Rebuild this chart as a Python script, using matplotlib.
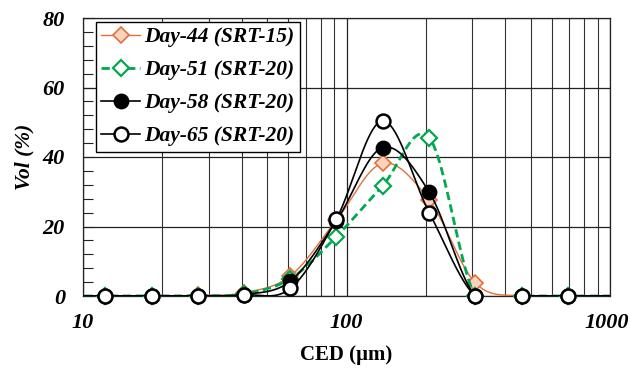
import numpy as np
import matplotlib
matplotlib.use("Agg")
import matplotlib.pyplot as plt
import matplotlib.transforms as mtransforms
from matplotlib.ticker import FixedLocator, NullFormatter

# Particle size bins (CED, µm) and volume fractions (%)
ced = [8.1, 12.1, 18.2, 27.2, 40.8, 61.3, 91.5, 137, 206, 308, 462, 693, 1039]
day44 = [0, 0, 0, 0.2, 0.9, 5.8, 21.8, 38.2, 27.6, 3.8, 0, 0, 0]
day51 = [0, 0, 0, 0.1, 0.6, 5.0, 17.1, 31.7, 45.6, 0, 0, 0, 0]
day58 = [0, 0, 0, 0.1, 0.4, 4.3, 21.6, 42.7, 29.9, 0, 0, 0, 0]
day65 = [0, 0, 0, 0.0, 0.3, 2.2, 22.1, 50.4, 24.0, 0, 0, 0, 0]

labels = ["Day-44 (SRT-15)", "Day-51 (SRT-20)", "Day-58 (SRT-20)", "Day-65 (SRT-20)"]
xticks = [10, 100, 1000]
xticklabels = ["10", "100", "1000"]
yticks = [0, 20, 40, 60, 80]

serif = ["Liberation Serif", "DejaVu Serif"]

fig = plt.figure(figsize=(6.30, 3.69), dpi=100)
ax = fig.add_axes([83 / 630, 1 - 296 / 369, 527 / 630, 278 / 369])
ax.set_xscale("log")
ax.set_xlim(10, 1000)
ax.set_ylim(0, 80)


def smooth(x, y, n=40):
    """Catmull-Rom style smoothing computed in display space."""
    pts = ax.transData.transform(np.column_stack([x, y]))
    P = np.vstack([pts[0], pts, pts[-1]])
    out = []
    for i in range(1, len(P) - 2):
        p0, p1, p2, p3 = P[i - 1], P[i], P[i + 1], P[i + 2]
        b1 = p1 + (p2 - p0) / 6.0
        b2 = p2 - (p3 - p1) / 6.0
        t = np.linspace(0, 1, n, endpoint=(i == len(P) - 3))[:, None]
        seg = ((1 - t) ** 3) * p1 + 3 * ((1 - t) ** 2) * t * b1 + 3 * (1 - t) * t ** 2 * b2 + t ** 3 * p2
        out.append(seg)
    out = np.vstack(out)
    d = ax.transData.inverted().transform(out)
    return d[:, 0], d[:, 1]


styles = [
    dict(color="#E2703A", lw=1.0, ls="-", marker="D", ms=8.5, mfc="#F9D3BE", mec="#E2703A", mew=1.2),
    dict(color="#00A850", lw=2.0, ls=(0, (3, 1.6)), marker="D", ms=8.5, mfc="white", mec="#00A850", mew=1.6),
    dict(color="black", lw=1.2, ls="-", marker="o", ms=10, mfc="black", mec="black", mew=1.4),
    dict(color="black", lw=1.2, ls="-", marker="o", ms=10, mfc="white", mec="black", mew=1.8),
]

xlo, xhi = ax.get_xlim()
handles = []
for i, (vals, lab, st) in enumerate(zip([day44, day51, day58, day65], labels, styles)):
    sx, sy = smooth(ced, vals)
    ax.plot(sx, sy, color=st["color"], lw=st["lw"], ls=st["ls"], zorder=3 + i)
    inside = [(c, v) for c, v in zip(ced, vals) if xlo <= c <= xhi]
    mx, my = zip(*inside)
    ax.plot(mx, my, ls="none", marker=st["marker"], ms=st["ms"], mfc=st["mfc"],
            mec=st["mec"], mew=st["mew"], zorder=3 + i, clip_on=False)
    h, = ax.plot([], [], color=st["color"], lw=st["lw"], ls=st["ls"], marker=st["marker"],
                 ms=st["ms"], mfc=st["mfc"], mec=st["mec"], mew=st["mew"])
    handles.append(h)

# grid
ax.set_xticks(xticks)
ax.set_xticklabels(xticklabels)
minor_x = [m * d for d in (10, 100) for m in range(2, 10)]
ax.xaxis.set_minor_locator(FixedLocator(minor_x))
ax.xaxis.set_minor_formatter(NullFormatter())
ax.set_yticks(yticks)
ax.yaxis.set_minor_locator(FixedLocator(np.arange(0, 81, 4)))
ax.grid(True, which="major", axis="both", color="#222222", lw=0.9)
ax.grid(True, which="minor", axis="x", color="#333333", lw=0.8)
ax.set_axisbelow(True)

for s in ax.spines.values():
    s.set_color("#222222")
    s.set_linewidth(0.9)

ax.tick_params(axis="y", which="both", direction="in", length=7, width=0.8, color="#222222", pad=13)
ax.tick_params(axis="x", which="both", length=0, pad=12)

for lbl in ax.get_xticklabels() + ax.get_yticklabels():
    lbl.set_fontfamily(serif)
    lbl.set_fontweight("bold")
    lbl.set_fontstyle("italic")
    lbl.set_fontsize(16)

# keep the last decade label inside the canvas
last = ax.get_xticklabels()[-1]
last.set_transform(last.get_transform() + mtransforms.ScaledTranslation(-3 / 100, 0, fig.dpi_scale_trans))

ax.set_xlabel("CED (µm)", fontfamily=serif, fontweight="bold", fontsize=15, labelpad=9)
ax.set_ylabel("Vol (%)", fontfamily=serif, fontweight="bold", fontstyle="italic", fontsize=15.5, labelpad=6)

leg = ax.legend(handles, labels, loc="upper left", bbox_to_anchor=(13 / 527, 1 - 4 / 278),
                prop=dict(family=serif, weight="bold", style="italic", size=15.5),
                frameon=True, fancybox=False, edgecolor="black", framealpha=1,
                handlelength=1.8, handletextpad=0.2, labelspacing=0.6, borderpad=0.25,
                borderaxespad=0)
leg.get_frame().set_linewidth(1.0)
leg.set_zorder(10)

fig.savefig("out.png", dpi=100, facecolor="white")
